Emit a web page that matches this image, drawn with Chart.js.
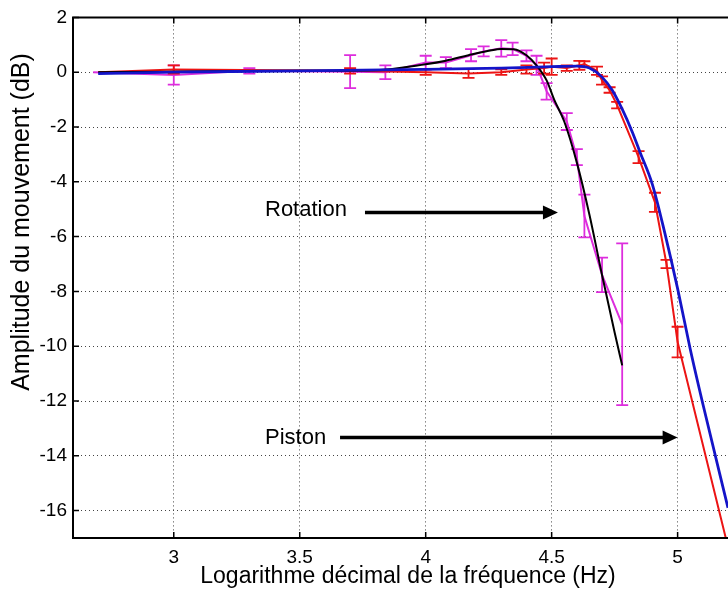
<!DOCTYPE html>
<html lang="fr">
<head>
<meta charset="UTF-8">
<title>Amplitude du mouvement</title>
<script src="https://cdn.jsdelivr.net/npm/chart.js"></script>
<style>
  html, body { margin: 0; padding: 0; background: #fff; }
</style>
</head>
<body>
<canvas id="chart" width="728" height="590"></canvas>
<script>
// rotation : mesures (log10 f, dB) et barres d'erreur
const rotFreq = [2.68, 3.0, 3.3, 3.70, 3.84, 4.0, 4.08, 4.18, 4.23, 4.30, 4.345, 4.40, 4.44, 4.48, 4.56, 4.60, 4.63, 4.70, 4.78];
const rotAmp  = [0.0, -0.1, 0.05, 0.02, 0.0, 0.35, 0.35, 0.62, 0.76, 0.87, 0.85, 0.6, 0.25, -0.7, -1.8, -3.1, -5.25, -7.4, -9.2];
const rotErr  = [0, 0.35, 0.1, 0.6, 0.25, 0.25, 0.2, 0.22, 0.18, 0.3, 0.23, 0.2, 0.35, 0.3, 0.31, 0.29, 0.78, 0.63, 2.95];

// rotation : modèle
const rotFitFreq = [2.7, 3.0, 3.5, 3.8, 4.0, 4.08, 4.17, 4.25, 4.3, 4.35, 4.40, 4.44, 4.48, 4.51, 4.55, 4.60, 4.65, 4.70, 4.75, 4.78];
const rotFitAmp  = [0.0, 0.02, 0.05, 0.07, 0.29, 0.42, 0.62, 0.78, 0.85, 0.84, 0.62, 0.25, -0.3, -1.0, -1.8, -3.3, -5.2, -7.4, -9.5, -10.7];

// piston : mesures et barres d'erreur
const pisFreq = [2.7, 3.0, 3.70, 4.0, 4.17, 4.30, 4.40, 4.47, 4.50, 4.56, 4.61, 4.63, 4.68, 4.70, 4.73, 4.76, 4.845, 4.91, 4.956, 5.0, 5.25];
const pisAmp  = [0.0, 0.1, 0.05, 0.0, -0.05, 0.0, 0.1, 0.15, 0.2, 0.15, 0.25, 0.3, 0.05, -0.3, -0.65, -1.2, -3.1, -4.75, -7.0, -9.85, -19.2];
const pisErr  = [0, 0.15, 0.1, 0.1, 0.16, 0.1, 0.15, 0.2, 0.3, 0.1, 0.16, 0.1, 0.15, 0.15, 0.1, 0.12, 0.22, 0.35, 0.15, 0.56, 0];

// piston : modèle
const pisFitFreq = [2.7, 3.0, 3.5, 4.0, 4.3, 4.5, 4.6, 4.65, 4.70, 4.74, 4.78, 4.82, 4.85, 4.90, 4.95, 5.0, 5.05, 5.1, 5.2];
const pisFitAmp  = [-0.05, 0.0, 0.05, 0.1, 0.15, 0.2, 0.22, 0.15, -0.18, -0.65, -1.35, -2.18, -2.9, -4.1, -5.9, -7.9, -10.1, -12.1, -15.9];

const xTicks = [3, 3.5, 4, 4.5, 5];
const yTicks = [2, 0, -2, -4, -6, -8, -10, -12, -14, -16];

const FONT = "'Liberation Sans', Arial, sans-serif";
const pts = (xs, ys) => xs.map((x, i) => ({ x: x, y: ys[i] }));

// barres d'erreur verticales dessinées avec chaque série
const errorBars = {
  id: 'errorBars',
  afterDatasetDraw(chart, args) {
    const ds = chart.data.datasets[args.index];
    if (!ds.errors) return;
    const { ctx, chartArea: a, scales: { x, y } } = chart;
    ctx.save();
    ctx.beginPath();
    ctx.rect(a.left, a.top, a.right - a.left, a.bottom - a.top);
    ctx.clip();
    ctx.strokeStyle = ds.borderColor;
    ctx.lineWidth = 1.8;
    ds.data.forEach((p, i) => {
      const e = ds.errors[i];
      if (!e) return;
      const px = x.getPixelForValue(p.x);
      const top = y.getPixelForValue(p.y + e);
      const bot = y.getPixelForValue(p.y - e);
      ctx.beginPath();
      ctx.moveTo(px, top); ctx.lineTo(px, bot);
      ctx.moveTo(px - 6, top); ctx.lineTo(px + 6, top);
      ctx.moveTo(px - 6, bot); ctx.lineTo(px + 6, bot);
      ctx.stroke();
    });
    ctx.restore();
  }
};

// cadre, graduations intérieures, titres d'axes et flèches
const frame = {
  id: 'frame',
  afterDraw(chart) {
    const { ctx, chartArea: a, scales: { x, y } } = chart;
    ctx.save();
    ctx.strokeStyle = '#000';
    ctx.lineWidth = 2;
    ctx.beginPath();
    ctx.moveTo(a.right + 2, a.top); ctx.lineTo(a.left, a.top);
    ctx.lineTo(a.left, a.bottom); ctx.lineTo(a.right + 2, a.bottom);
    ctx.stroke();

    ctx.lineWidth = 1.5;
    ctx.beginPath();
    xTicks.forEach(v => {
      const px = x.getPixelForValue(v);
      ctx.moveTo(px, a.bottom); ctx.lineTo(px, a.bottom - 6);
      ctx.moveTo(px, a.top); ctx.lineTo(px, a.top + 6);
    });
    yTicks.forEach(v => {
      const py = y.getPixelForValue(v);
      ctx.moveTo(a.left, py); ctx.lineTo(a.left + 6, py);
    });
    ctx.stroke();

    ctx.fillStyle = '#000';
    ctx.font = '23px ' + FONT;
    ctx.textAlign = 'center';
    ctx.textBaseline = 'middle';
    ctx.fillText('Logarithme décimal de la fréquence (Hz)', 408, 577);
    ctx.save();
    ctx.translate(22, 222);
    ctx.rotate(-Math.PI / 2);
    ctx.font = '25px ' + FONT;
    ctx.fillText('Amplitude du mouvement (dB)', 0, 0);
    ctx.restore();

    const arrow = (x0, x1, yv) => {
      const p0 = x.getPixelForValue(x0), p1 = x.getPixelForValue(x1), py = y.getPixelForValue(yv);
      ctx.lineWidth = 3.5;
      ctx.beginPath();
      ctx.moveTo(p0, py); ctx.lineTo(p1 - 12, py);
      ctx.stroke();
      ctx.beginPath();
      ctx.moveTo(p1, py); ctx.lineTo(p1 - 15, py - 7); ctx.lineTo(p1 - 15, py + 7);
      ctx.closePath();
      ctx.fill();
    };
    ctx.font = '22px ' + FONT;
    ctx.textAlign = 'left';
    ctx.fillText('Rotation', 265, 210);
    arrow(3.759, 4.525, -5.12);
    ctx.fillText('Piston', 265, 438);
    arrow(3.66, 5.0, -13.33);
    ctx.restore();
  }
};

new Chart(document.getElementById('chart'), {
  type: 'scatter',
  data: {
    datasets: [
      { label: 'Rotation', data: pts(rotFreq, rotAmp), errors: rotErr, showLine: true,
        borderColor: '#dd2ddd', borderWidth: 2, pointRadius: 0, tension: 0, order: 3 },
      { label: 'Piston', data: pts(pisFreq, pisAmp), errors: pisErr, showLine: true,
        borderColor: '#ec1414', borderWidth: 2, pointRadius: 0, tension: 0, order: 2 },
      { label: 'Rotation (modèle)', data: pts(rotFitFreq, rotFitAmp), showLine: true,
        borderColor: '#000000', borderWidth: 2, pointRadius: 0, cubicInterpolationMode: 'monotone', order: 1 },
      { label: 'Piston (modèle)', data: pts(pisFitFreq, pisFitAmp), showLine: true,
        borderColor: '#1414c8', borderWidth: 2.8, pointRadius: 0, cubicInterpolationMode: 'monotone', order: 0 }
    ]
  },
  options: {
    responsive: false,
    animation: false,
    layout: { padding: { top: 15, right: 0, left: 0, bottom: 0 } },
    plugins: { legend: { display: false }, tooltip: { enabled: false } },
    scales: {
      x: {
        type: 'linear', min: 2.6, max: 5.2,
        afterBuildTicks: s => { s.ticks = xTicks.map(v => ({ value: v })); },
        afterFit: s => { s.height = 52; },
        ticks: { color: '#000', padding: 8, font: { family: FONT, size: 19 }, callback: v => String(v) },
        grid: { color: '#444', lineWidth: 1, drawTicks: false },
        border: { display: false, dash: [1, 3] }
      },
      y: {
        type: 'linear', min: -17, max: 2,
        afterBuildTicks: s => { s.ticks = yTicks.map(v => ({ value: v })); },
        afterFit: s => { s.width = 73; },
        ticks: { color: '#000', padding: 6, font: { family: FONT, size: 19 }, callback: v => String(v) },
        grid: { color: '#444', lineWidth: 1, drawTicks: false },
        border: { display: false, dash: [1, 3] }
      }
    }
  },
  plugins: [errorBars, frame]
});
</script>
</body>
</html>
